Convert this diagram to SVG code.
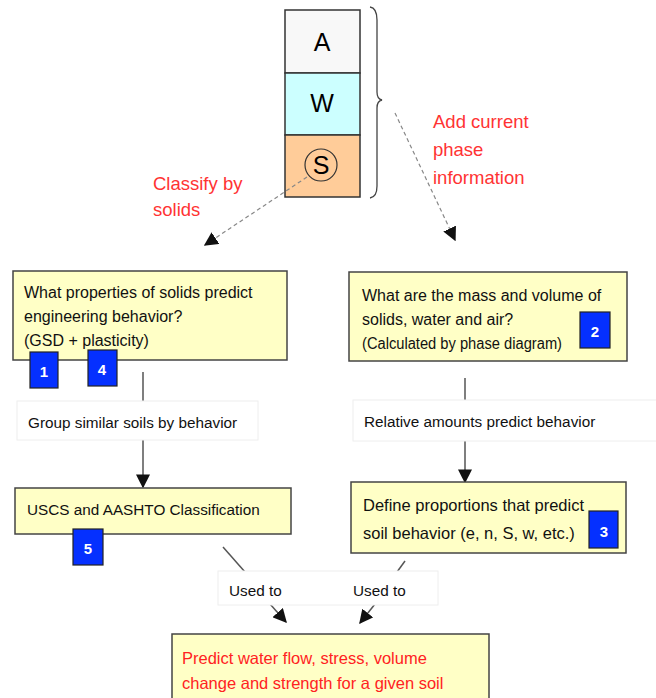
<svg xmlns="http://www.w3.org/2000/svg" width="656" height="698" viewBox="0 0 656 698">
<defs>
<style>
text{font-family:"Liberation Sans",Arial,sans-serif;fill:#111;font-size:15.3px}
.t16{font-size:16px}
.t165{font-size:16.5px}
.red{fill:#ff3333;font-size:18.5px}
.redb{fill:#ff2222;font-size:16.5px}
.box{fill:#ffffc6;stroke:#444;stroke-width:1.5}
.lbl{fill:#fff;stroke:#eee;stroke-width:1}
.badge{fill:#0530ff;stroke:#222;stroke-width:1.2}
.bt{fill:#fff;font-size:15px;font-weight:bold;text-anchor:middle}
.dash{stroke:#888;stroke-width:1.2;stroke-dasharray:4,3;fill:none}
.ln{stroke:#555;stroke-width:1.5;fill:none}
.big{font-size:25px;text-anchor:middle;fill:#000}
</style>
<marker id="ahb" viewBox="0 0 10 10" refX="9" refY="5" markerWidth="14" markerHeight="14" markerUnits="userSpaceOnUse" orient="auto">
<path d="M0,0 L10,5 L0,10 z" fill="#111"/>
</marker>
</defs>

<g id="phase">
<rect x="285" y="10" width="75" height="63" fill="#f8f8f8" stroke="#333" stroke-width="1.5"/>
<rect x="285" y="73" width="75" height="62" fill="#ccffff" stroke="#333" stroke-width="1.5"/>
<rect x="285" y="135" width="75" height="62" fill="#ffcc99" stroke="#333" stroke-width="1.5"/>
<text x="322" y="51" class="big">A</text>
<text x="322" y="112" class="big">W</text>
<circle cx="321" cy="165" r="16" fill="none" stroke="#333" stroke-width="1.2"/>
<text x="321" y="174" class="big">S</text>
<path d="M370,7 Q377,8 377,20 L377,92 Q377,99 382,100 Q377,101 377,108 L377,186 Q377,197 370,198" fill="none" stroke="#444" stroke-width="1.3"/>
</g>

<g id="labels-top">
<text x="153" y="190" class="red">Classify by</text>
<text x="153" y="216" class="red">solids</text>
<text x="433" y="128" class="red">Add current</text>
<text x="433" y="156" class="red">phase</text>
<text x="433" y="184" class="red">information</text>
</g>

<g id="connectors">
<line x1="307" y1="177" x2="205" y2="245" class="dash" marker-end="url(#ahb)"/>
<line x1="395" y1="113" x2="455" y2="240" class="dash" marker-end="url(#ahb)"/>
<line x1="143" y1="372" x2="143" y2="401" class="ln"/>
<line x1="143" y1="440" x2="143" y2="487" class="ln" marker-end="url(#ahb)"/>
<line x1="465" y1="378" x2="465" y2="401" class="ln"/>
<line x1="465" y1="441" x2="465" y2="482" class="ln" marker-end="url(#ahb)"/>
<line x1="223" y1="547" x2="245" y2="572" class="ln"/>
<line x1="405" y1="561" x2="397" y2="572" class="ln"/>
<line x1="270" y1="604" x2="286" y2="622" class="ln" marker-end="url(#ahb)"/>
<line x1="375" y1="604" x2="360" y2="623" class="ln" marker-end="url(#ahb)"/>
</g>

<g id="node-solids">
<rect x="13" y="271" width="274" height="89" class="box"/>
<text x="24" y="298" class="t16">What properties of solids predict</text>
<text x="24" y="322" class="t16">engineering behavior?</text>
<text x="24" y="346" class="t16">(GSD + plasticity)</text>
</g>
<g id="badge-1"><rect x="30" y="352" width="28" height="36" class="badge"/><text x="44" y="377" class="bt">1</text></g>
<g id="badge-4"><rect x="88" y="350" width="29" height="36" class="badge"/><text x="102" y="375" class="bt">4</text></g>

<g id="node-phase">
<rect x="349" y="272" width="278" height="89" class="box"/>
<text x="362" y="301" class="t16">What are the mass and volume of</text>
<text x="362" y="325" class="t16">solids, water and air?</text>
<text x="362" y="349" class="t16" textLength="200" lengthAdjust="spacingAndGlyphs">(Calculated by phase diagram)</text>
</g>
<g id="badge-2"><rect x="580" y="312" width="30" height="36" class="badge"/><text x="595" y="337" class="bt">2</text></g>

<g id="label-group">
<rect x="17" y="401" width="241" height="39" class="lbl"/>
<text x="28" y="428">Group similar soils by behavior</text>
</g>
<g id="label-relative">
<rect x="353" y="400" width="310" height="41" class="lbl"/>
<text x="364" y="427">Relative amounts predict behavior</text>
</g>

<g id="node-uscs">
<rect x="15" y="488" width="276" height="46" class="box"/>
<text x="27" y="515">USCS and AASHTO Classification</text>
</g>
<g id="badge-5"><rect x="73" y="529" width="30" height="36" class="badge"/><text x="88" y="554" class="bt">5</text></g>

<g id="node-define">
<rect x="351" y="482" width="275" height="71" class="box"/>
<text x="363" y="511" class="t165">Define proportions that predict</text>
<text x="363" y="539" class="t165">soil behavior (e, n, S, w, etc.)</text>
</g>
<g id="badge-3"><rect x="589" y="511" width="29" height="37" class="badge"/><text x="604" y="537" class="bt">3</text></g>

<g id="label-used">
<rect x="218" y="571" width="220" height="34" class="lbl"/>
<text x="229" y="596">Used to</text>
<text x="353" y="596">Used to</text>
</g>

<g id="node-predict">
<rect x="172" y="634" width="317" height="70" class="box"/>
<text x="182" y="664" class="redb">Predict water flow, stress, volume</text>
<text x="182" y="689" class="redb">change and strength for a given soil</text>
</g>
</svg>
